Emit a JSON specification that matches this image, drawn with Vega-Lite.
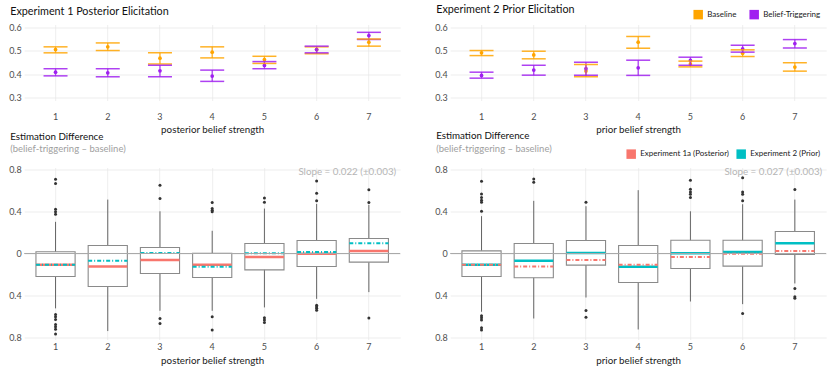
{
"$schema": "https://vega.github.io/schema/vega-lite/v6.json",
"background": "white",
"padding": {"left": 8.2, "top": 3.5, "right": 0, "bottom": 0},
"autosize": {"type": "pad"},
"columns": 2,
"spacing": {"row": 67, "column": 50},
"bounds": "flush",
"resolve": {"scale": {"color": "independent"}, "legend": {"color": "independent"}},
"config": {
  "font": "Lato",
  "view": {"stroke": null},
  "axis": {"domain": false, "ticks": false, "labelOverlap": false, "labelFont": "Lato", "labelFontSize": 9, "labelColor": "#4d4d4d", "titleFont": "Lato", "titleFontSize": 9.8, "titleFontWeight": "normal", "titleColor": "#1a1a1a", "gridColor": "#e9e9e9", "gridWidth": 0.8},
  "axisX": {"labelAngle": 0, "titlePadding": 4.5},
  "axisY": {"labelPadding": 3},
  "title": {"font": "Lato", "fontWeight": "normal", "color": "#111111", "anchor": "start", "frame": "group", "dx": -14, "subtitleFont": "Lato", "subtitleColor": "#a0a0a0", "subtitleFontSize": 9.5, "subtitlePadding": 2.5},
  "legend": {"orient": "none", "direction": "horizontal", "title": null, "symbolType": "square", "symbolSize": 90, "symbolStrokeWidth": 0, "labelFont": "Lato", "labelFontSize": 8, "labelColor": "#1a1a1a", "labelOffset": 4, "columnPadding": 12, "padding": 0}
},
"datasets": {
  "ci": [
    {"panel":"E1","s":1,"cond":"Baseline","m":0.506,"lo":0.492,"hi":0.518},
    {"panel":"E1","s":1,"cond":"Belief-Triggering","m":0.408,"lo":0.392,"hi":0.423},
    {"panel":"E1","s":2,"cond":"Baseline","m":0.518,"lo":0.502,"hi":0.535},
    {"panel":"E1","s":2,"cond":"Belief-Triggering","m":0.405,"lo":0.388,"hi":0.423},
    {"panel":"E1","s":3,"cond":"Baseline","m":0.469,"lo":0.444,"hi":0.492},
    {"panel":"E1","s":3,"cond":"Belief-Triggering","m":0.414,"lo":0.388,"hi":0.438},
    {"panel":"E1","s":4,"cond":"Baseline","m":0.495,"lo":0.470,"hi":0.518},
    {"panel":"E1","s":4,"cond":"Belief-Triggering","m":0.391,"lo":0.368,"hi":0.417},
    {"panel":"E1","s":5,"cond":"Baseline","m":0.463,"lo":0.446,"hi":0.477},
    {"panel":"E1","s":5,"cond":"Belief-Triggering","m":0.437,"lo":0.423,"hi":0.454},
    {"panel":"E1","s":6,"cond":"Baseline","m":0.506,"lo":0.488,"hi":0.518},
    {"panel":"E1","s":6,"cond":"Belief-Triggering","m":0.506,"lo":0.492,"hi":0.521},
    {"panel":"E1","s":7,"cond":"Baseline","m":0.538,"lo":0.521,"hi":0.552},
    {"panel":"E1","s":7,"cond":"Belief-Triggering","m":0.567,"lo":0.550,"hi":0.581},
    {"panel":"E2","s":1,"cond":"Baseline","m":0.492,"lo":0.480,"hi":0.502},
    {"panel":"E2","s":1,"cond":"Belief-Triggering","m":0.394,"lo":0.382,"hi":0.408},
    {"panel":"E2","s":2,"cond":"Baseline","m":0.483,"lo":0.466,"hi":0.499},
    {"panel":"E2","s":2,"cond":"Belief-Triggering","m":0.417,"lo":0.395,"hi":0.438},
    {"panel":"E2","s":3,"cond":"Baseline","m":0.413,"lo":0.388,"hi":0.441},
    {"panel":"E2","s":3,"cond":"Belief-Triggering","m":0.423,"lo":0.395,"hi":0.451},
    {"panel":"E2","s":4,"cond":"Baseline","m":0.538,"lo":0.512,"hi":0.563},
    {"panel":"E2","s":4,"cond":"Belief-Triggering","m":0.427,"lo":0.394,"hi":0.460},
    {"panel":"E2","s":5,"cond":"Baseline","m":0.444,"lo":0.431,"hi":0.456},
    {"panel":"E2","s":5,"cond":"Belief-Triggering","m":0.459,"lo":0.438,"hi":0.473},
    {"panel":"E2","s":6,"cond":"Baseline","m":0.490,"lo":0.476,"hi":0.505},
    {"panel":"E2","s":6,"cond":"Belief-Triggering","m":0.509,"lo":0.495,"hi":0.525},
    {"panel":"E2","s":7,"cond":"Baseline","m":0.430,"lo":0.4125,"hi":0.449},
    {"panel":"E2","s":7,"cond":"Belief-Triggering","m":0.532,"lo":0.513,"hi":0.5495}
  ],
  "box": [
    {"panel":"E1","s":1,"wlo":-0.52,"q1":-0.218,"q3":0.016,"whi":0.30},
    {"panel":"E1","s":2,"wlo":-0.735,"q1":-0.3125,"q3":0.076,"whi":0.511},
    {"panel":"E1","s":3,"wlo":-0.543,"q1":-0.189,"q3":0.057,"whi":0.40},
    {"panel":"E1","s":4,"wlo":-0.543,"q1":-0.227,"q3":0.003,"whi":0.215},
    {"panel":"E1","s":5,"wlo":-0.511,"q1":-0.155,"q3":0.095,"whi":0.426},
    {"panel":"E1","s":6,"wlo":-0.43,"q1":-0.123,"q3":0.123,"whi":0.47},
    {"panel":"E1","s":7,"wlo":-0.366,"q1":-0.082,"q3":0.142,"whi":0.461},
    {"panel":"E2","s":1,"wlo":-0.552,"q1":-0.218,"q3":0.025,"whi":0.354},
    {"panel":"E2","s":2,"wlo":-0.616,"q1":-0.23,"q3":0.095,"whi":0.499},
    {"panel":"E2","s":3,"wlo":-0.417,"q1":-0.11,"q3":0.123,"whi":0.448},
    {"panel":"E2","s":4,"wlo":-0.72,"q1":-0.275,"q3":0.076,"whi":0.60},
    {"panel":"E2","s":5,"wlo":-0.455,"q1":-0.142,"q3":0.126,"whi":0.40},
    {"panel":"E2","s":6,"wlo":-0.48,"q1":-0.12,"q3":0.126,"whi":0.467},
    {"panel":"E2","s":7,"wlo":-0.284,"q1":-0.009,"q3":0.208,"whi":0.511}
  ],
  "med": [
    {"s":1,"exp":"Experiment 1a (Posterior)","med":-0.107},
    {"s":2,"exp":"Experiment 1a (Posterior)","med":-0.123},
    {"s":3,"exp":"Experiment 1a (Posterior)","med":-0.061},
    {"s":4,"exp":"Experiment 1a (Posterior)","med":-0.107},
    {"s":5,"exp":"Experiment 1a (Posterior)","med":-0.034},
    {"s":6,"exp":"Experiment 1a (Posterior)","med":-0.003},
    {"s":7,"exp":"Experiment 1a (Posterior)","med":0.024},
    {"s":1,"exp":"Experiment 2 (Prior)","med":-0.106},
    {"s":2,"exp":"Experiment 2 (Prior)","med":-0.069},
    {"s":3,"exp":"Experiment 2 (Prior)","med":0.005},
    {"s":4,"exp":"Experiment 2 (Prior)","med":-0.125},
    {"s":5,"exp":"Experiment 2 (Prior)","med":0.003},
    {"s":6,"exp":"Experiment 2 (Prior)","med":0.014},
    {"s":7,"exp":"Experiment 2 (Prior)","med":0.098}
  ],
  "out": [
    {"panel":"E1","s":1,"v":0.704},{"panel":"E1","s":1,"v":0.663},{"panel":"E1","s":1,"v":0.42},{"panel":"E1","s":1,"v":0.395},{"panel":"E1","s":1,"v":0.372},
    {"panel":"E1","s":1,"v":-0.578},{"panel":"E1","s":1,"v":-0.60},{"panel":"E1","s":1,"v":-0.625},{"panel":"E1","s":1,"v":-0.672},{"panel":"E1","s":1,"v":-0.694},{"panel":"E1","s":1,"v":-0.717},{"panel":"E1","s":1,"v":-0.764},
    {"panel":"E1","s":3,"v":0.647},{"panel":"E1","s":3,"v":0.521},{"panel":"E1","s":3,"v":-0.616},{"panel":"E1","s":3,"v":-0.663},
    {"panel":"E1","s":4,"v":0.483},{"panel":"E1","s":4,"v":0.426},{"panel":"E1","s":4,"v":0.41},{"panel":"E1","s":4,"v":0.395},{"panel":"E1","s":4,"v":-0.60},{"panel":"E1","s":4,"v":-0.726},
    {"panel":"E1","s":5,"v":0.527},{"panel":"E1","s":5,"v":0.486},{"panel":"E1","s":5,"v":-0.61},{"panel":"E1","s":5,"v":-0.63},{"panel":"E1","s":5,"v":-0.653},
    {"panel":"E1","s":6,"v":0.688},{"panel":"E1","s":6,"v":0.571},{"panel":"E1","s":6,"v":0.50},{"panel":"E1","s":6,"v":-0.49},{"panel":"E1","s":6,"v":-0.505},{"panel":"E1","s":6,"v":-0.52},{"panel":"E1","s":6,"v":-0.537},
    {"panel":"E1","s":7,"v":0.603},{"panel":"E1","s":7,"v":0.483},{"panel":"E1","s":7,"v":-0.612},
    {"panel":"E2","s":1,"v":0.685},{"panel":"E2","s":1,"v":0.565},{"panel":"E2","s":1,"v":0.53},{"panel":"E2","s":1,"v":0.505},{"panel":"E2","s":1,"v":0.486},{"panel":"E2","s":1,"v":0.40},
    {"panel":"E2","s":1,"v":-0.59},{"panel":"E2","s":1,"v":-0.61},{"panel":"E2","s":1,"v":-0.631},{"panel":"E2","s":1,"v":-0.704},{"panel":"E2","s":1,"v":-0.726},
    {"panel":"E2","s":2,"v":0.707},{"panel":"E2","s":2,"v":0.676},
    {"panel":"E2","s":3,"v":0.486},{"panel":"E2","s":3,"v":-0.54},{"panel":"E2","s":3,"v":-0.603},
    {"panel":"E2","s":5,"v":0.694},{"panel":"E2","s":5,"v":0.609},{"panel":"E2","s":5,"v":0.584},{"panel":"E2","s":5,"v":0.562},{"panel":"E2","s":5,"v":0.53},
    {"panel":"E2","s":6,"v":0.717},{"panel":"E2","s":6,"v":0.584},{"panel":"E2","s":6,"v":0.562},{"panel":"E2","s":6,"v":0.50},{"panel":"E2","s":6,"v":-0.568},
    {"panel":"E2","s":7,"v":0.606},{"panel":"E2","s":7,"v":-0.331},{"panel":"E2","s":7,"v":-0.41},{"panel":"E2","s":7,"v":-0.423}
  ],
  "notes": [
    {"panel":"E1","t":"Slope = 0.022 (±0.003)"},
    {"panel":"E2","t":"Slope = 0.027 (±0.003)"}
  ]
},
"concat": [
  {
    "width": 376, "height": 76,
    "title": {"text": "Experiment 1 Posterior Elicitation", "fontSize": 10.8, "offset": 6.7},
    "data": {"name": "ci"},
    "transform": [{"filter": "datum.panel == 'E1'"}],
    "resolve": {"axis": {"y": "independent"}},
    "encoding": {
      "x": {"field": "s", "type": "ordinal", "title": "posterior belief strength", "scale": {"type": "band", "paddingInner": 0.25, "paddingOuter": 0.225}, "axis": {"grid": true, "bandPosition": 0.5, "labelPadding": 12, "titlePadding": 3}},
      "color": {"field": "cond", "type": "nominal", "scale": {"domain": ["Baseline", "Belief-Triggering"], "range": ["#FFA500", "#A020F0"]}, "legend": null}
    },
    "layer": [
      {"mark": {"type": "point", "filled": true, "size": 14, "opacity": 1}, "encoding": {"y": {"field": "m", "type": "quantitative", "title": null, "scale": {"domain": [0.285, 0.615], "nice": false, "zero": false}, "axis": {"values": [0.3, 0.4, 0.5, 0.6], "format": ".1f", "labelOverlap": false, "gridColor": "#e9e9e9"}}}},
      {"mark": {"type": "rule", "strokeWidth": 1.3, "opacity": 0.85}, "encoding": {"y": {"field": "lo", "type": "quantitative", "title": null, "axis": {"orient": "left", "values": [0.35, 0.45, 0.55], "labels": false, "gridColor": "#f4f4f4", "zindex": 0}}, "y2": {"field": "hi"}}},
      {"mark": {"type": "tick", "size": 24, "thickness": 1.5, "opacity": 0.85}, "encoding": {"y": {"field": "lo", "type": "quantitative", "title": null, "axis": null}}},
      {"mark": {"type": "tick", "size": 24, "thickness": 1.5, "opacity": 0.85}, "encoding": {"y": {"field": "hi", "type": "quantitative", "title": null, "axis": null}}}
    ]
  },
  {
    "width": 376, "height": 76,
    "title": {"text": "Experiment 2 Prior Elicitation", "fontSize": 10.8, "offset": -4.8},
    "data": {"name": "ci"},
    "transform": [{"filter": "datum.panel == 'E2'"}],
    "resolve": {"axis": {"y": "independent"}},
    "encoding": {
      "x": {"field": "s", "type": "ordinal", "title": "prior belief strength", "scale": {"type": "band", "paddingInner": 0.25, "paddingOuter": 0.225}, "axis": {"grid": true, "bandPosition": 0.5, "labelPadding": 12, "titlePadding": 3}},
      "color": {"field": "cond", "type": "nominal", "scale": {"domain": ["Baseline", "Belief-Triggering"], "range": ["#FFA500", "#A020F0"]}, "legend": {"legendX": 243, "legendY": -15, "columnPadding": 12}}
    },
    "layer": [
      {"mark": {"type": "point", "filled": true, "size": 14, "opacity": 1}, "encoding": {"y": {"field": "m", "type": "quantitative", "title": null, "scale": {"domain": [0.285, 0.615], "nice": false, "zero": false}, "axis": {"values": [0.3, 0.4, 0.5, 0.6], "format": ".1f", "labelOverlap": false, "gridColor": "#e9e9e9"}}}},
      {"mark": {"type": "rule", "strokeWidth": 1.3, "opacity": 0.85}, "encoding": {"y": {"field": "lo", "type": "quantitative", "title": null, "axis": {"orient": "left", "values": [0.35, 0.45, 0.55], "labels": false, "gridColor": "#f4f4f4", "zindex": 0}}, "y2": {"field": "hi"}}},
      {"mark": {"type": "tick", "size": 24, "thickness": 1.5, "opacity": 0.85}, "encoding": {"y": {"field": "lo", "type": "quantitative", "title": null, "axis": null}}},
      {"mark": {"type": "tick", "size": 24, "thickness": 1.5, "opacity": 0.85}, "encoding": {"y": {"field": "hi", "type": "quantitative", "title": null, "axis": null}}}
    ]
  },
  {
    "width": 376, "height": 172,
    "title": {"text": "Estimation Difference", "subtitle": "(belief-triggering – baseline)", "fontSize": 9.8, "offset": 11.5},
    "layer": [
      {"data": {"name": "box"}, "transform": [{"filter": "datum.panel == 'E1'"}],
       "mark": {"type": "rule", "color": "#555555", "strokeWidth": 0.9},
       "encoding": {
         "x": {"field": "s", "type": "ordinal", "title": "posterior belief strength", "scale": {"type": "band", "paddingInner": 0.25, "paddingOuter": 0.225}, "axis": {"grid": true, "bandPosition": 0.5, "labelPadding": 3}},
         "y": {"field": "wlo", "type": "quantitative", "title": null, "scale": {"domain": [-0.815, 0.815], "nice": false, "zero": false}, "axis": {"values": [-0.8, -0.6, -0.4, -0.2, 0, 0.2, 0.4, 0.6, 0.8], "labelOverlap": false, "labelExpr": "round(abs(datum.value)*10) % 4 == 0 ? (datum.value == 0 ? '0' : format(abs(datum.value), '.1f')) : ''", "gridColor": {"condition": {"test": "round(abs(datum.value)*10) % 4 != 0", "value": "#f4f4f4"}, "value": "#e9e9e9"}}},
         "y2": {"field": "whi"}}},
      {"data": {"name": "box"}, "transform": [{"filter": "datum.panel == 'E1'"}],
       "mark": {"type": "bar", "fill": "white", "stroke": "#8a8a8a", "strokeWidth": 1.1},
       "encoding": {"x": {"field": "s", "type": "ordinal", "title": "posterior belief strength"}, "y": {"field": "q1", "type": "quantitative", "title": null}, "y2": {"field": "q3"}}},
      {"data": {"name": "med"}, "transform": [{"filter": "datum.exp == 'Experiment 1a (Posterior)'"}],
       "mark": {"type": "tick", "size": 39, "thickness": 2.5, "opacity": 1},
       "encoding": {"x": {"field": "s", "type": "ordinal", "title": "posterior belief strength"}, "y": {"field": "med", "type": "quantitative", "title": null},
         "color": {"field": "exp", "type": "nominal", "scale": {"domain": ["Experiment 1a (Posterior)", "Experiment 2 (Prior)"], "range": ["#F8766D", "#00BFC4"]}, "legend": null}}},
      {"data": {"name": "med"}, "transform": [{"filter": "datum.exp == 'Experiment 2 (Prior)'"}],
       "mark": {"type": "rule", "strokeWidth": 2, "strokeDash": [4, 2, 1, 2]},
       "encoding": {"x": {"field": "s", "type": "ordinal", "title": "posterior belief strength", "bandPosition": 0}, "x2": {"field": "s", "bandPosition": 1}, "y": {"field": "med", "type": "quantitative", "title": null},
         "color": {"field": "exp", "type": "nominal", "legend": null}}},
      {"data": {"values": [{}]}, "mark": {"type": "rule", "color": "#a8a8a8", "strokeWidth": 1}, "encoding": {"y": {"datum": 0}}},
      {"data": {"name": "out"}, "transform": [{"filter": "datum.panel == 'E1'"}],
       "mark": {"type": "circle", "size": 9, "color": "#333333", "opacity": 1},
       "encoding": {"x": {"field": "s", "type": "ordinal", "title": "posterior belief strength"}, "y": {"field": "v", "type": "quantitative", "title": null}}},
      {"data": {"name": "notes"}, "transform": [{"filter": "datum.panel == 'E1'"}],
       "mark": {"type": "text", "align": "right", "baseline": "middle", "dx": -4, "color": "#b5b5b5", "fontSize": 9.8, "font": "Lato"},
       "encoding": {"text": {"field": "t"}, "x": {"value": "width"}, "y": {"datum": 0.77}}}
    ]
  },
  {
    "width": 376, "height": 172,
    "title": {"text": "Estimation Difference", "subtitle": "(belief-triggering – baseline)", "fontSize": 9.8, "offset": -4},
    "layer": [
      {"data": {"name": "box"}, "transform": [{"filter": "datum.panel == 'E2'"}],
       "mark": {"type": "rule", "color": "#555555", "strokeWidth": 0.9},
       "encoding": {
         "x": {"field": "s", "type": "ordinal", "title": "prior belief strength", "scale": {"type": "band", "paddingInner": 0.25, "paddingOuter": 0.225}, "axis": {"grid": true, "bandPosition": 0.5, "labelPadding": 3}},
         "y": {"field": "wlo", "type": "quantitative", "title": null, "scale": {"domain": [-0.815, 0.815], "nice": false, "zero": false}, "axis": {"values": [-0.8, -0.6, -0.4, -0.2, 0, 0.2, 0.4, 0.6, 0.8], "labelOverlap": false, "labelExpr": "round(abs(datum.value)*10) % 4 == 0 ? (datum.value == 0 ? '0' : format(abs(datum.value), '.1f')) : ''", "gridColor": {"condition": {"test": "round(abs(datum.value)*10) % 4 != 0", "value": "#f4f4f4"}, "value": "#e9e9e9"}}},
         "y2": {"field": "whi"}}},
      {"data": {"name": "box"}, "transform": [{"filter": "datum.panel == 'E2'"}],
       "mark": {"type": "bar", "fill": "white", "stroke": "#8a8a8a", "strokeWidth": 1.1},
       "encoding": {"x": {"field": "s", "type": "ordinal", "title": "prior belief strength"}, "y": {"field": "q1", "type": "quantitative", "title": null}, "y2": {"field": "q3"}}},
      {"data": {"name": "med"}, "transform": [{"filter": "datum.exp == 'Experiment 2 (Prior)'"}],
       "mark": {"type": "tick", "size": 39, "thickness": 2.5, "opacity": 1},
       "encoding": {"x": {"field": "s", "type": "ordinal", "title": "prior belief strength"}, "y": {"field": "med", "type": "quantitative", "title": null},
         "color": {"field": "exp", "type": "nominal", "scale": {"domain": ["Experiment 1a (Posterior)", "Experiment 2 (Prior)"], "range": ["#F8766D", "#00BFC4"]}, "legend": {"legendX": 176, "legendY": -18.5, "columnPadding": 7}}}},
      {"data": {"name": "med"}, "transform": [{"filter": "datum.exp == 'Experiment 1a (Posterior)'"}],
       "mark": {"type": "rule", "strokeWidth": 2, "strokeDash": [4, 2, 1, 2]},
       "encoding": {"x": {"field": "s", "type": "ordinal", "title": "prior belief strength", "bandPosition": 0}, "x2": {"field": "s", "bandPosition": 1}, "y": {"field": "med", "type": "quantitative", "title": null},
         "color": {"field": "exp", "type": "nominal"}}},
      {"data": {"values": [{}]}, "mark": {"type": "rule", "color": "#a8a8a8", "strokeWidth": 1}, "encoding": {"y": {"datum": 0}}},
      {"data": {"name": "out"}, "transform": [{"filter": "datum.panel == 'E2'"}],
       "mark": {"type": "circle", "size": 9, "color": "#333333", "opacity": 1},
       "encoding": {"x": {"field": "s", "type": "ordinal", "title": "prior belief strength"}, "y": {"field": "v", "type": "quantitative", "title": null}}},
      {"data": {"name": "notes"}, "transform": [{"filter": "datum.panel == 'E2'"}],
       "mark": {"type": "text", "align": "right", "baseline": "middle", "dx": -4, "color": "#b5b5b5", "fontSize": 9.8, "font": "Lato"},
       "encoding": {"text": {"field": "t"}, "x": {"value": "width"}, "y": {"datum": 0.77}}}
    ]
  }
]
}
